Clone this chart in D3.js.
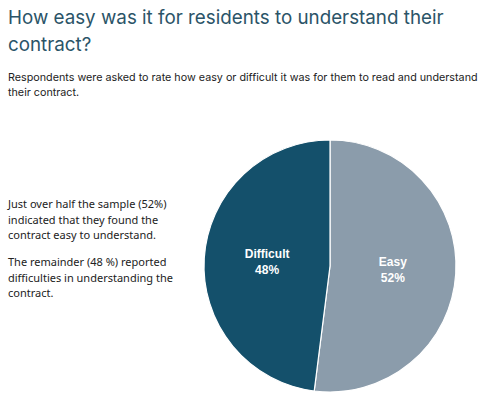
<!DOCTYPE html>
<html><head><meta charset="utf-8">
<script src="https://cdn.jsdelivr.net/npm/d3@7"></script>
<style>
html,body{margin:0;padding:0;background:#fff;}
svg{display:block;}
</style></head>
<body>
<svg id="chart" width="495" height="412"></svg>
<script>
const categories = ["Easy", "Difficult"];
const values = [52, 48];
const colors = ["#8b9cab", "#14506b"];
const titleLines = ["How easy was it for residents to understand their", "contract?"];
const subtitleLines = ["Respondents were asked to rate how easy or difficult it was for them to read and understand", "their contract."];
const noteParas = [
  ["Just over half the sample (52%)", "indicated that they found the", "contract easy to understand."],
  ["The remainder (48 %) reported", "difficulties in understanding the", "contract."]
];

const svg = d3.select("#chart");

svg.append("g").selectAll("text").data(titleLines).join("text")
  .attr("x", 8).attr("y", (d,i) => 24 + i*27)
  .attr("font-family", "Inter, 'Open Sans', sans-serif")
  .attr("font-size", 18.8).attr("fill", "#2b5468")
  .text(d => d);

svg.append("g").selectAll("text").data(subtitleLines).join("text")
  .attr("x", 8).attr("y", (d,i) => 81 + i*14.5)
  .attr("font-family", "Inter, 'Open Sans', sans-serif")
  .attr("font-size", 10.75).attr("fill", "#222")
  .text(d => d);

const notes = svg.append("g");
noteParas.forEach((p, pi) => {
  notes.append("g").selectAll("text").data(p).join("text")
    .attr("x", 8).attr("y", (d,i) => 208 + pi*58 + i*15.6)
    .attr("font-family", "'Noto Sans', 'Liberation Sans', sans-serif")
    .attr("font-size", 11).attr("fill", "#222")
    .text(d => d);
});

const cx = 330, cy = 266, r = 126;
const pie = d3.pie().sort(null).value(d => d.v);
const data = pie(categories.map((c,i) => ({c, v: values[i], col: colors[i]})));
const arc = d3.arc().innerRadius(0).outerRadius(r);
const labelArc = d3.arc().innerRadius(r*0.5).outerRadius(r*0.5);

const g = svg.append("g").attr("transform", `translate(${cx},${cy})`);
g.selectAll("path").data(data).join("path")
  .attr("d", arc).attr("fill", d => d.data.col)
  .attr("stroke", "#fff").attr("stroke-width", 1.2);

const lab = g.selectAll("g.lab").data(data).join("g").attr("class","lab")
  .attr("transform", d => `translate(${labelArc.centroid(d)})`);
lab.append("text").attr("text-anchor","middle").attr("y", -4)
  .attr("font-family", "'Liberation Sans', Arial, sans-serif").attr("font-weight","bold")
  .attr("font-size", 12).attr("fill", "#fff").text(d => d.data.c);
lab.append("text").attr("text-anchor","middle").attr("y", 12)
  .attr("font-family", "'Liberation Sans', Arial, sans-serif").attr("font-weight","bold")
  .attr("font-size", 12).attr("fill", "#fff").text(d => d.data.v + "%");
</script>
</body></html>
